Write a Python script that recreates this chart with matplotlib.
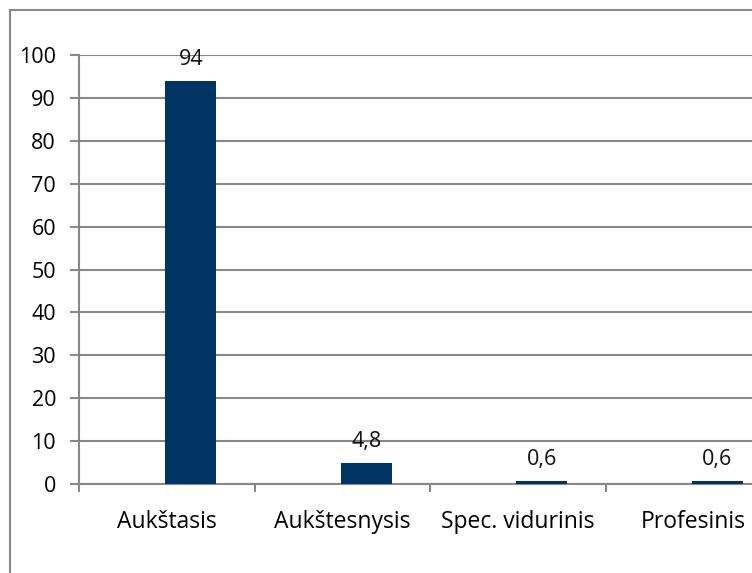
import matplotlib
matplotlib.use("Agg")
import matplotlib.pyplot as plt
import numpy as np
from matplotlib.patches import Rectangle

categories = ["Aukštasis", "Aukštesnysis", "Spec. vidurinis", "Profesinis"]
values = [94, 4.8, 0.6, 0.6]
labels = ["94", "4,8", "0,6", "0,6"]
yticks = [0, 10, 20, 30, 40, 50, 60, 70, 80, 90, 100]

plt.rcParams['font.family'] = ['Open Sans', 'DejaVu Sans']
grey = "#878787"
navy = "#003462"

fig = plt.figure(figsize=(7.52, 5.73), dpi=100)
ax = fig.add_axes([79 / 752, 89 / 573, 702 / 752, 429 / 573])

x = np.arange(len(categories))
ax.bar(x + 0.137, values, width=0.29, color=navy, zorder=3)

for xi, v, s in zip(x, values, labels):
    ax.annotate(s, (xi + 0.137, v), xytext=(0, 11.5), textcoords="offset points",
                ha="center", va="baseline", fontsize=15.5, color="#111111")

ax.set_xlim(-0.5, 3.5)
ax.set_ylim(0, 100)
ax.set_yticks(yticks)
ax.yaxis.grid(True, color=grey, linewidth=1.5, zorder=0)
ax.tick_params(axis="y", length=6.5, width=1.5, color=grey, pad=10, labelsize=15.5)

ax.set_xticks(np.arange(-0.5, 4, 1))
ax.set_xticklabels([])
ax.set_xticks(x, minor=True)
ax.set_xticklabels(categories, minor=True)
ax.tick_params(axis="x", which="major", length=6, width=1.5, color=grey)
ax.tick_params(axis="x", which="minor", length=0, pad=19, labelsize=16.5)

for side in ["top", "right"]:
    ax.spines[side].set_visible(False)
for side in ["left", "bottom"]:
    ax.spines[side].set_color(grey)
    ax.spines[side].set_linewidth(1.5)

fig.patches.append(Rectangle((10 / 752, -0.1), 1.2, (573 - 10) / 573 + 0.1,
                             transform=fig.transFigure, fill=False,
                             edgecolor=grey, linewidth=1.5))

fig.savefig("out.png", dpi=100)
